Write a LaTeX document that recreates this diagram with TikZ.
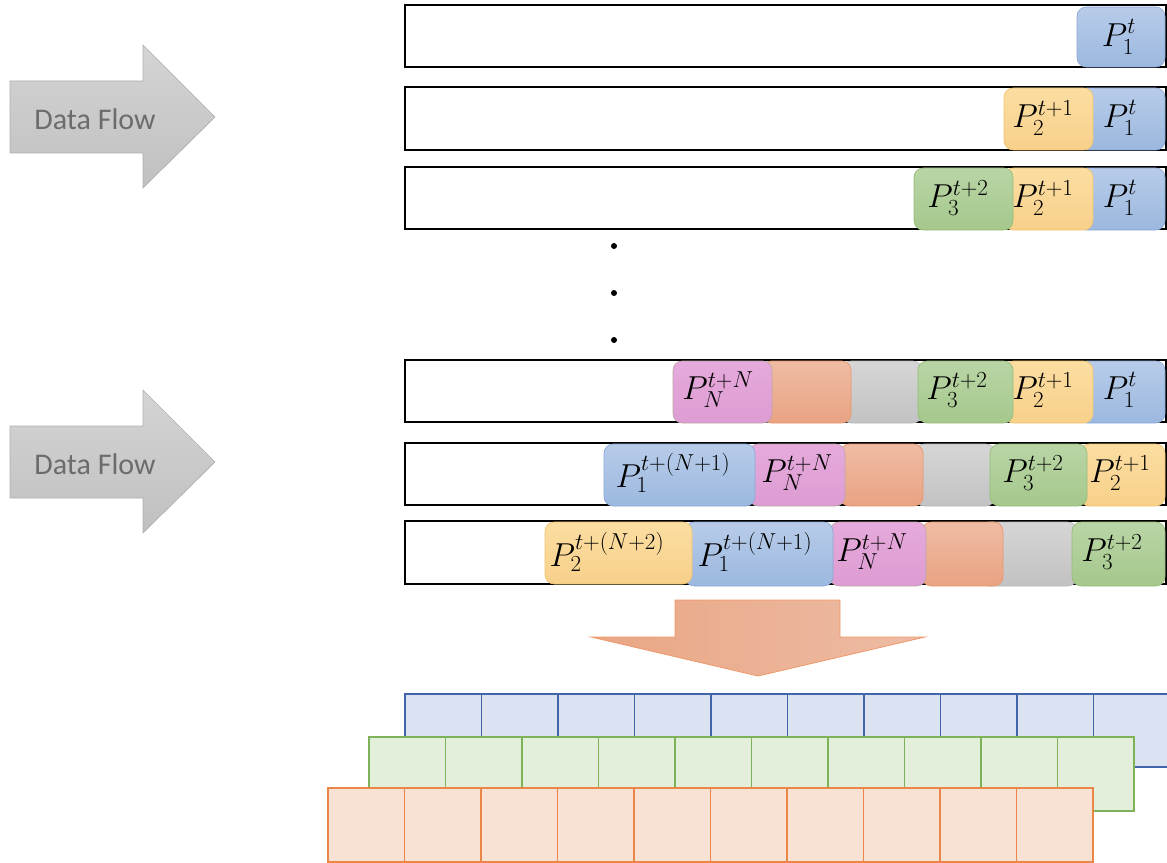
\documentclass[tikz,border=0pt]{standalone}
\usepackage{fontspec}
\newfontfamily\flowfont{Carlito}
\DeclareMathSizes{24}{24}{18}{14}
\definecolor{blueA}{RGB}{184,204,233}
\definecolor{blueB}{RGB}{155,184,223}
\definecolor{blueE}{RGB}{140,168,215}
\definecolor{orgA}{RGB}{251,222,162}
\definecolor{orgB}{RGB}{248,208,138}
\definecolor{orgE}{RGB}{242,196,112}
\definecolor{grnA}{RGB}{185,213,166}
\definecolor{grnB}{RGB}{165,200,140}
\definecolor{grnE}{RGB}{150,188,122}
\definecolor{pnkA}{RGB}{230,170,220}
\definecolor{pnkB}{RGB}{221,156,210}
\definecolor{pnkE}{RGB}{190,165,170}
\definecolor{salA}{RGB}{239,188,164}
\definecolor{salB}{RGB}{233,163,130}
\definecolor{salE}{RGB}{232,150,110}
\definecolor{gryA}{RGB}{214,214,214}
\definecolor{gryB}{RGB}{194,194,194}
\definecolor{gryE}{RGB}{185,185,185}
\definecolor{flowA}{RGB}{212,212,212}
\definecolor{flowB}{RGB}{192,192,192}
\definecolor{flowE}{RGB}{175,175,175}
\definecolor{flowT}{RGB}{108,108,108}
\definecolor{bigL}{RGB}{233,166,132}
\definecolor{bigR}{RGB}{237,188,165}
\definecolor{bigE}{RGB}{240,152,105}
\definecolor{gBlueF}{RGB}{219,227,242}
\definecolor{gBlueE}{RGB}{66,100,168}
\definecolor{gGrnF}{RGB}{227,238,219}
\definecolor{gGrnE}{RGB}{125,178,88}
\definecolor{gOrgF}{RGB}{248,226,212}
\definecolor{gOrgE}{RGB}{234,135,72}
% one rounded packet: style, x1, x2, y1, y2
\newcommand\blk[5]{\path[#1] (#2,#4) rectangle (#3,#5);}
\begin{document}
\begin{tikzpicture}[x=0.75pt,y=-0.75pt,
  rowbox/.style={draw=black,line width=1.6pt,fill=white},
  pkt/.style={rounded corners=7pt,line width=0.5pt},
  bluep/.style={pkt,draw=blueE,top color=blueA,bottom color=blueB},
  orgp/.style={pkt,draw=orgE,top color=orgA,bottom color=orgB},
  grnp/.style={pkt,draw=grnE,top color=grnA,bottom color=grnB},
  pnkp/.style={pkt,draw=pnkE,top color=pnkA,bottom color=pnkB},
  salp/.style={pkt,draw=salE,top color=salA,bottom color=salB},
  gryp/.style={pkt,draw=gryE,top color=gryA,bottom color=gryB},
  lbl/.style={inner sep=0pt,font=\fontsize{24}{28}\selectfont},
  flowarrow/.style={draw=flowE,line width=0.5pt,top color=flowA,bottom color=flowB},
  flowtext/.style={text=flowT,font=\flowfont\fontsize{22.5}{26}\selectfont},
  bigarrow/.style={draw=bigE,line width=0.6pt,left color=bigL,right color=bigR},
  bluecell/.style={draw=gBlueE,fill=gBlueF,line width=1.1pt},
  grncell/.style={draw=gGrnE,fill=gGrnF,line width=1.1pt},
  orgcell/.style={draw=gOrgE,fill=gOrgF,line width=1.1pt},
  dot/.style={fill=black}
]
\useasboundingbox (0,0) rectangle (1167,863);
\clip (0,0) rectangle (1167,863);

% data-flow arrows
\path[flowarrow] (10,81) -- (143,81) -- (143,45) -- (215,117) -- (143,188) -- (143,153) -- (10,153) -- cycle;
\node[flowtext] (flow1) at (95,119) {Data Flow};
\path[flowarrow] (10,426) -- (143,426) -- (143,390) -- (215,462) -- (143,533) -- (143,498) -- (10,498) -- cycle;
\node[flowtext] (flow2) at (95,464) {Data Flow};

% row outlines
\draw[rowbox] (405,5) rectangle (1166,67);
\draw[rowbox] (405,87) rectangle (1166,150);
\draw[rowbox] (405,167) rectangle (1166,229);
\draw[rowbox] (405,360) rectangle (1166,422);
\draw[rowbox] (405,443) rectangle (1166,505);
\draw[rowbox] (405,521) rectangle (1166,584);

% row 1
\blk{bluep}{1077}{1165}{7}{67}
\node[lbl] (r1a) at (1119,37) {$P_1^{t}$};

% row 2
\blk{bluep}{1077}{1165}{88}{150}
\blk{orgp}{1004}{1093}{88}{150}
\node[lbl] (r2b) at (1043,118) {$P_2^{t+1}$};
\node[lbl] (r2a) at (1120,118) {$P_1^{t}$};

% row 3
\blk{bluep}{1077}{1165}{168}{230}
\blk{orgp}{1004}{1093}{168}{230}
\blk{grnp}{914}{1013}{168}{230}
\node[lbl] (r3c) at (958,198) {$P_3^{t+2}$};
\node[lbl] (r3b) at (1043,198) {$P_2^{t+1}$};
\node[lbl] (r3a) at (1120,198) {$P_1^{t}$};

% ellipsis dots
\fill[dot] (614,246) circle (3);
\fill[dot] (614,293) circle (3);
\fill[dot] (614,340) circle (3);

% row 4
\blk{bluep}{1077}{1165}{361}{423}
\blk{orgp}{1004}{1093}{361}{423}
\blk{gryp}{842}{922}{361}{423}
\blk{grnp}{918}{1013}{361}{423}
\blk{salp}{762}{851}{361}{423}
\blk{pnkp}{673}{772}{361}{423}
\node[lbl] (r4n) at (718,390) {$P_N^{t+N}$};
\node[lbl] (r4c) at (957,390) {$P_3^{t+2}$};
\node[lbl] (r4b) at (1043,390) {$P_2^{t+1}$};
\node[lbl] (r4a) at (1120,390) {$P_1^{t}$};

% row 5
\blk{orgp}{1080}{1165}{444}{506}
\blk{gryp}{915}{995}{444}{506}
\blk{grnp}{990}{1087}{444}{506}
\blk{salp}{840}{923}{444}{506}
\blk{pnkp}{749}{845}{444}{506}
\blk{bluep}{604}{755}{444}{506}
\node[lbl] (r5d) at (673,473) {$P_1^{t+(N+1)}$};
\node[lbl] (r5n) at (797,473) {$P_N^{t+N}$};
\node[lbl] (r5c) at (1033,473) {$P_3^{t+2}$};
\node[lbl] (r5b) at (1120,473) {$P_2^{t+1}$};

% row 6
\blk{gryp}{980}{1077}{522}{586}
\blk{grnp}{1072}{1165}{522}{586}
\blk{salp}{922}{1003}{522}{586}
\blk{pnkp}{830}{926}{522}{586}
\blk{bluep}{685}{833}{522}{586}
\blk{orgp}{545}{692}{522}{584}
\node[lbl] (r6e) at (607,552) {$P_2^{t+(N+2)}$};
\node[lbl] (r6d) at (755,552) {$P_1^{t+(N+1)}$};
\node[lbl] (r6n) at (872,552) {$P_N^{t+N}$};
\node[lbl] (r6c) at (1112,552) {$P_3^{t+2}$};

% merge arrow
\path[bigarrow] (675,600) -- (840,600) -- (840,637) -- (925,637) -- (758,676) -- (591,637) -- (675,637) -- cycle;

% stacked output grids
\foreach \i in {0,...,9}
  \draw[bluecell] ({405+76.5*\i},694) rectangle ({405+76.5*(\i+1)},767);
\foreach \i in {0,...,9}
  \draw[grncell] ({369+76.5*\i},737) rectangle ({369+76.5*(\i+1)},811);
\foreach \i in {0,...,9}
  \draw[orgcell] ({328+76.5*\i},788) rectangle ({328+76.5*(\i+1)},862);
\end{tikzpicture}
\end{document}
